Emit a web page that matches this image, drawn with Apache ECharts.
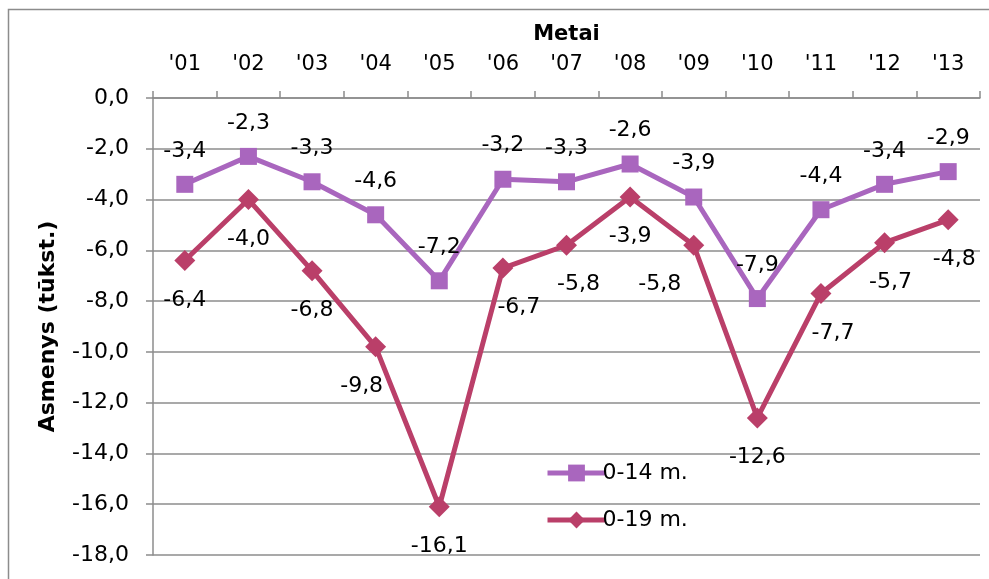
<!DOCTYPE html>
<html>
<head>
<meta charset="utf-8">
<script src="https://cdn.jsdelivr.net/npm/echarts@6/dist/echarts.min.js"></script>
<style>
  html, body { margin: 0; padding: 0; background: #fff; }
  #chart { width: 989px; height: 579px; }
</style>
</head>
<body>
<div id="chart"></div>
<script>
// Years on the top axis
const years = ["'01", "'02", "'03", "'04", "'05", "'06", "'07", "'08", "'09", "'10", "'11", "'12", "'13"];
// Change in number of persons (thousands)
const age0to14 = [-3.4, -2.3, -3.3, -4.6, -7.2, -3.2, -3.3, -2.6, -3.9, -7.9, -4.4, -3.4, -2.9];
const age0to19 = [-6.4, -4.0, -6.8, -9.8, -16.1, -6.7, -5.8, -3.9, -5.8, -12.6, -7.7, -5.7, -4.8];
const seriesNames = ['0-14 m.', '0-19 m.'];

const FONT = 'DejaVu Sans';
const PURPLE = '#A966BE';
const CRIMSON = '#BA3F69';
const fmt = v => v.toFixed(1).replace('.', ',');

// small nudges for the lower series labels so they clear the lines
const lowerLabelNudge = { 3: [-14, 0], 5: [16, 0], 6: [12, 0], 8: [-34, 0], 10: [12, 0], 11: [6, 0], 12: [6, 0] };

const chart = echarts.init(document.getElementById('chart'));
chart.setOption({
  animation: false,
  textStyle: { fontFamily: FONT },
  graphic: [{
    type: 'rect', shape: { x: 8.5, y: 9.5, width: 1000, height: 600 },
    style: { fill: 'none', stroke: '#8c8c8c', lineWidth: 1.5 }, silent: true
  }],
  grid: { left: 153, right: 9, top: 98, bottom: 24 },
  legend: {
    orient: 'vertical', left: 540, top: 457, itemGap: 25,
    itemWidth: 58, itemHeight: 21,
    lineStyle: { width: 5 },
    textStyle: { fontFamily: FONT, fontSize: 22, color: '#000', padding: [0, 0, 0, -8] },
    data: seriesNames
  },
  xAxis: {
    type: 'category', position: 'top', data: years, boundaryGap: true,
    name: 'Metai', nameLocation: 'middle', nameGap: 53,
    nameTextStyle: { fontFamily: FONT, fontWeight: 'bold', fontSize: 21, color: '#000' },
    axisLine: { lineStyle: { color: '#8c8c8c', width: 1.5 } },
    axisTick: { show: true, length: 7, alignWithLabel: false, lineStyle: { color: '#8c8c8c', width: 1.5 } },
    axisLabel: { fontFamily: FONT, fontSize: 21, color: '#000', margin: 23 },
    splitLine: { show: false }
  },
  yAxis: {
    type: 'value', min: -18, max: 0, interval: 2,
    name: 'Asmenys (tūkst.)', nameLocation: 'middle', nameGap: 94, nameRotate: 90,
    nameTextStyle: { fontFamily: FONT, fontWeight: 'bold', fontSize: 22, color: '#000' },
    axisLine: { show: true, lineStyle: { color: '#8c8c8c', width: 1.5 } },
    axisTick: { show: true, length: 7, lineStyle: { color: '#8c8c8c', width: 1.5 } },
    axisLabel: { fontFamily: FONT, fontSize: 22, color: '#000', margin: 24, formatter: v => fmt(v) },
    splitLine: { lineStyle: { color: '#8c8c8c', width: 1.5 } }
  },
  series: [
    {
      name: seriesNames[0], type: 'line', data: age0to14,
      symbol: 'rect', symbolSize: 17,
      lineStyle: { color: PURPLE, width: 5 },
      itemStyle: { color: PURPLE },
      label: {
        show: true, position: 'top', distance: 14,
        fontFamily: FONT, fontSize: 22, color: '#000', formatter: p => fmt(p.value)
      },
      z: 3
    },
    {
      name: seriesNames[1], type: 'line',
      data: age0to19.map((v, i) => {
        const nudge = lowerLabelNudge[i];
        return nudge ? { value: v, label: { offset: nudge } } : v;
      }),
      symbol: 'diamond', symbolSize: 21,
      lineStyle: { color: CRIMSON, width: 5 },
      itemStyle: { color: CRIMSON },
      label: {
        show: true, position: 'bottom', distance: 18,
        fontFamily: FONT, fontSize: 22, color: '#000', formatter: p => fmt(p.value)
      },
      z: 2
    }
  ]
});
</script>
</body>
</html>
